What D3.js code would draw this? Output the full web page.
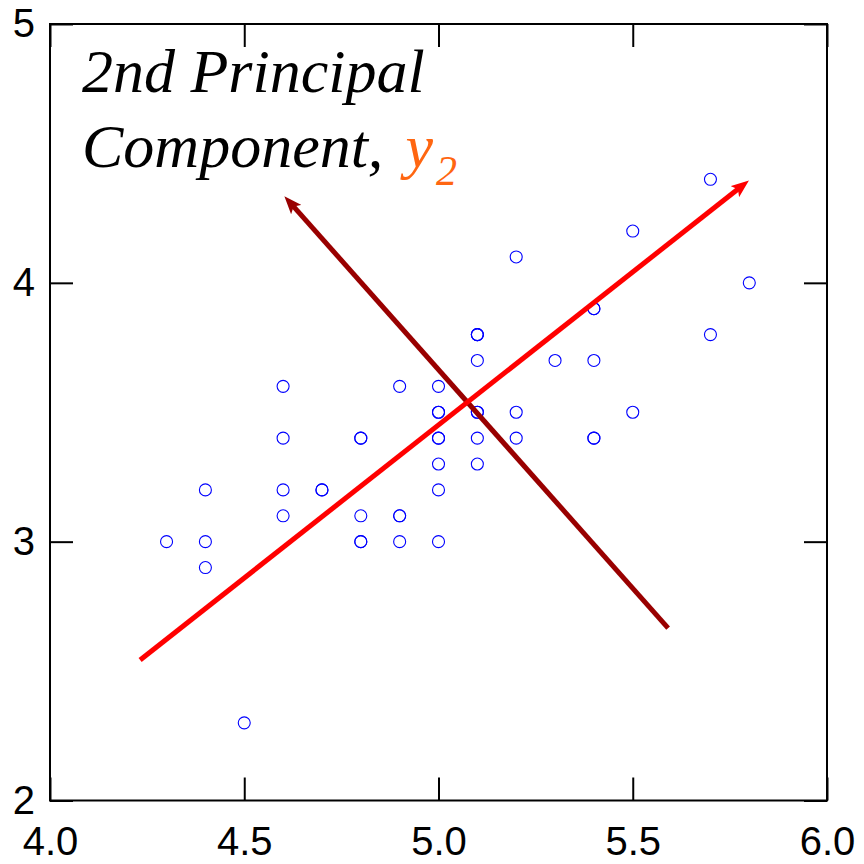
<!DOCTYPE html>
<html>
<head>
<meta charset="utf-8">
<script src="https://cdn.jsdelivr.net/npm/d3@7"></script>
<style>
  html, body { margin: 0; padding: 0; background: #fff; }
  svg { display: block; }
</style>
</head>
<body>
<svg id="chart" width="864" height="864"></svg>
<script>
// Sepal length / sepal width of Iris setosa
const sepalLength = [5.1,4.9,4.7,4.6,5.0,5.4,4.6,5.0,4.4,4.9,5.4,4.8,4.8,4.3,5.8,5.7,5.4,5.1,5.7,5.1,
                     5.4,5.1,4.6,5.1,4.8,5.0,5.0,5.2,5.2,4.7,4.8,5.4,5.2,5.5,4.9,5.0,5.5,4.9,4.4,5.1,
                     5.0,4.5,4.4,5.0,5.1,4.8,5.1,4.6,5.3,5.0];
const sepalWidth  = [3.5,3.0,3.2,3.1,3.6,3.9,3.4,3.4,2.9,3.1,3.7,3.4,3.0,3.0,4.0,4.4,3.9,3.5,3.8,3.8,
                     3.4,3.7,3.6,3.3,3.4,3.0,3.4,3.5,3.4,3.2,3.1,3.4,4.1,4.2,3.1,3.2,3.5,3.6,3.0,3.4,
                     3.5,2.3,3.2,3.5,3.8,3.0,3.8,3.2,3.7,3.3];

// Principal component arrows: [x0, y0, x1, y1] in data units
const pc1Arrow = [4.232, 2.543, 5.797, 4.393];
const pc2Arrow = [5.591, 2.666, 4.605, 4.332];

const xTicks = [4.0, 4.5, 5.0, 5.5, 6.0];
const yTicks = [2, 3, 4, 5];
const xDomain = [4.0, 6.0];
const yDomain = [2, 5];

const svg = d3.select("#chart");
const margin = { left: 50, right: 37, top: 24, bottom: 63.5 };
const W = 864, H = 864;
const x = d3.scaleLinear().domain(xDomain).range([margin.left, W - margin.right]);
const y = d3.scaleLinear().domain(yDomain).range([H - margin.bottom, margin.top]);

const tickLen = 23;
const axisFont = "'Liberation Sans', Arial, sans-serif";

function styleAxis(g) {
  g.select(".domain").remove();
  g.selectAll(".tick line").attr("stroke", "#000").attr("stroke-width", 2);
  g.selectAll("text").attr("font-family", axisFont).attr("font-size", 40).attr("fill", "#000");
}

// bottom axis with labels
svg.append("g")
  .attr("transform", `translate(0,${y(yDomain[0])})`)
  .call(d3.axisBottom(x).tickValues(xTicks).tickFormat(d3.format(".1f"))
        .tickSizeInner(-tickLen).tickSizeOuter(0).tickPadding(26))
  .call(styleAxis);

// left axis with labels
svg.append("g")
  .attr("transform", `translate(${x(xDomain[0])},0)`)
  .call(d3.axisLeft(y).tickValues(yTicks).tickFormat(d3.format("d"))
        .tickSizeInner(-tickLen).tickSizeOuter(0).tickPadding(15))
  .call(styleAxis);

// top and right axes: ticks only
svg.append("g")
  .attr("transform", `translate(0,${y(yDomain[1])})`)
  .call(d3.axisTop(x).tickValues(xTicks).tickFormat("")
        .tickSizeInner(-tickLen).tickSizeOuter(0))
  .call(styleAxis);

svg.append("g")
  .attr("transform", `translate(${x(xDomain[1])},0)`)
  .call(d3.axisRight(y).tickValues(yTicks).tickFormat("")
        .tickSizeInner(-tickLen).tickSizeOuter(0))
  .call(styleAxis);

// frame
svg.append("rect")
  .attr("x", x(xDomain[0])).attr("y", y(yDomain[1]))
  .attr("width", x(xDomain[1]) - x(xDomain[0]))
  .attr("height", y(yDomain[0]) - y(yDomain[1]))
  .attr("fill", "none").attr("stroke", "#000").attr("stroke-width", 2);

// scatter points
svg.append("g")
  .selectAll("circle")
  .data(d3.range(sepalLength.length))
  .join("circle")
  .attr("cx", i => x(sepalLength[i]))
  .attr("cy", i => y(sepalWidth[i]))
  .attr("r", 6)
  .attr("fill", "none")
  .attr("stroke", "#0000ff")
  .attr("stroke-width", 1.1);

// arrow markers
const defs = svg.append("defs");
function marker(id, color) {
  defs.append("marker")
    .attr("id", id)
    .attr("viewBox", "0 0 18 14")
    .attr("refX", 17).attr("refY", 7)
    .attr("markerUnits", "userSpaceOnUse")
    .attr("markerWidth", 18).attr("markerHeight", 14)
    .attr("orient", "auto")
    .append("path")
    .attr("d", "M0,0 L18,7 L0,14 L4,7 Z")
    .attr("fill", color);
}
marker("headRed", "#ff0000");
marker("headDark", "#990000");

function arrow(a, color, id) {
  const x0 = x(a[0]), y0 = y(a[1]), x1 = x(a[2]), y1 = y(a[3]);
  const len = Math.hypot(x1 - x0, y1 - y0);
  const ux = (x1 - x0) / len, uy = (y1 - y0) / len;
  svg.append("line")
    .attr("x1", x0).attr("y1", y0)
    .attr("x2", x1 - ux * 10).attr("y2", y1 - uy * 10)
    .attr("stroke", color).attr("stroke-width", 5)
    .attr("stroke-linecap", "butt");
  svg.append("line")
    .attr("x1", x1 - ux * 12).attr("y1", y1 - uy * 12)
    .attr("x2", x1).attr("y2", y1)
    .attr("stroke", "none")
    .attr("marker-end", `url(#${id})`);
}
arrow(pc2Arrow, "#990000", "headDark");
arrow(pc1Arrow, "#ff0000", "headRed");

// title
const serif = "'Liberation Serif', 'Times New Roman', serif";
svg.append("text")
  .attr("x", 82).attr("y", 92)
  .attr("font-family", serif).attr("font-style", "italic").attr("font-size", 62)
  .attr("fill", "#000")
  .text("2nd Principal");

const t2 = svg.append("text")
  .attr("x", 82).attr("y", 167)
  .attr("font-family", serif).attr("font-style", "italic").attr("font-size", 62)
  .attr("fill", "#000");
t2.append("tspan").text("Component,");
t2.append("tspan").attr("fill", "#ff6611").attr("dx", 22).text("y");
t2.append("tspan").attr("fill", "#ff6611").attr("font-size", 42)
  .attr("dx", 3).attr("dy", 18).text("2");
</script>
</body>
</html>
